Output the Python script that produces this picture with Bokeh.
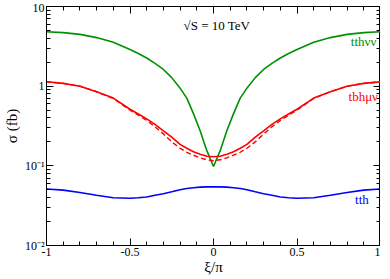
from bokeh.plotting import figure
from bokeh.models import LinearAxis, LogAxis, FixedTicker, LogTicker, Label, Range1d
from bokeh.embed import file_html
from bokeh.resources import INLINE

# xi/pi grid
xi = [-1.0, -0.9, -0.8, -0.7, -0.6, -0.5, -0.45, -0.4, -0.35, -0.3, -0.25, -0.2, -0.16, -0.12, -0.08, -0.04, 0.0,
      0.04, 0.08, 0.12, 0.16, 0.2, 0.25, 0.3, 0.35, 0.4, 0.45, 0.5, 0.6, 0.7, 0.8, 0.9, 1.0]

# cross sections in fb
sigma_tthvv = [4.82, 4.70, 4.47, 4.07, 3.55, 2.88, 2.57, 2.26, 1.93, 1.62, 1.28, 0.944, 0.708, 0.452, 0.275, 0.155, 0.098,
               0.155, 0.275, 0.452, 0.708, 0.944, 1.28, 1.62, 1.93, 2.26, 2.57, 2.88, 3.55, 4.07, 4.47, 4.70, 4.82]
sigma_tbhmv = [1.135, 1.084, 1.0, 0.851, 0.708, 0.513, 0.447, 0.389, 0.331, 0.275, 0.229, 0.186, 0.166, 0.150, 0.140, 0.132, 0.130,
               0.132, 0.140, 0.150, 0.166, 0.186, 0.229, 0.275, 0.331, 0.389, 0.447, 0.513, 0.708, 0.851, 1.0, 1.084, 1.135]
sigma_tbhmv_dash = [1.135, 1.084, 1.0, 0.851, 0.700, 0.501, 0.432, 0.372, 0.309, 0.251, 0.200, 0.166, 0.148, 0.136, 0.126, 0.119, 0.116,
                    0.119, 0.126, 0.136, 0.148, 0.166, 0.200, 0.251, 0.309, 0.372, 0.432, 0.501, 0.700, 0.851, 1.0, 1.084, 1.135]
sigma_tth = [0.0513, 0.0495, 0.0462, 0.0427, 0.0398, 0.0392, 0.0398, 0.0407, 0.0427, 0.0447, 0.0473, 0.0501, 0.0519, 0.0531, 0.0540, 0.0545, 0.0546,
             0.0545, 0.0540, 0.0531, 0.0519, 0.0501, 0.0473, 0.0447, 0.0427, 0.0407, 0.0398, 0.0392, 0.0398, 0.0427, 0.0462, 0.0495, 0.0513]

x_ticks = [-1, -0.5, 0, 0.5, 1]
x_minor = [-0.9, -0.8, -0.7, -0.6, -0.4, -0.3, -0.2, -0.1, 0.1, 0.2, 0.3, 0.4, 0.6, 0.7, 0.8, 0.9]
x_tick_labels = {-1: "-1", -0.5: "-0.5", 0: "0", 0.5: "0.5", 1: "1"}
y_tick_labels = {0.01: "10\u207b\u00b2", 0.1: "10\u207b\u00b9", 1: "1", 10: "10"}

FONT = "Liberation Serif"

p = figure(frame_width=334, frame_height=239, y_axis_type="log",
           x_range=Range1d(-1, 1), y_range=Range1d(0.01, 10),
           output_backend="svg", toolbar_location=None,
           min_border_left=0, min_border_right=0, min_border_top=6, min_border_bottom=0)
p.grid.visible = False
p.outline_line_color = "black"
p.outline_line_width = 1
p.background_fill_color = "white"
p.border_fill_color = "white"

p.line(xi, sigma_tthvv, line_color="#009000", line_width=1.6)
p.line(xi, sigma_tbhmv, line_color="#ff0000", line_width=1.6)
p.line(xi, sigma_tbhmv_dash, line_color="#ff0000", line_width=1.4, line_dash="5 3")
p.line(xi, sigma_tth, line_color="#0000ff", line_width=1.6)

def style(ax):
    ax.axis_line_color = "black"
    ax.major_tick_in = 7
    ax.major_tick_out = 0
    ax.minor_tick_in = 4
    ax.minor_tick_out = 0
    ax.major_tick_line_color = "black"
    ax.minor_tick_line_color = "black"
    ax.major_label_text_font = FONT
    ax.major_label_text_font_size = "12px"
    ax.major_label_text_color = "black"
    ax.axis_label_text_font = FONT
    ax.axis_label_text_font_size = "15px"
    ax.axis_label_text_font_style = "normal"
    ax.axis_label_text_color = "black"

xa = p.xaxis[0]
xa.ticker = FixedTicker(ticks=x_ticks, minor_ticks=x_minor)
xa.major_label_overrides = x_tick_labels
xa.axis_label = "\u03be/\u03c0"
xa.major_label_standoff = 2
xa.axis_label_standoff = 0
style(xa)

ya = p.yaxis[0]
ya.ticker = LogTicker(num_minor_ticks=10, desired_num_ticks=4)
ya.major_label_overrides = y_tick_labels
ya.axis_label = "\u03c3 (fb)"
ya.major_label_standoff = 2
ya.axis_label_standoff = 2
style(ya)

# mirrored tick marks (no labels) on top and right
top = LinearAxis(ticker=FixedTicker(ticks=x_ticks, minor_ticks=x_minor))
style(top)
top.major_label_overrides = {t: "" for t in x_ticks}
top.major_label_standoff = 0
top.axis_label_standoff = 0
p.add_layout(top, "above")

right = LogAxis(ticker=LogTicker(num_minor_ticks=10, desired_num_ticks=4))
style(right)
right.major_label_overrides = {0.01: "", 0.1: "", 1: "", 10: ""}
right.major_label_standoff = 0
right.axis_label_standoff = 0
p.add_layout(right, "right")

p.add_layout(Label(x=0.02, y=5.8, text="\u221aS = 10 TeV", text_font=FONT, text_font_size="13px",
                   text_color="black", text_align="center", text_baseline="middle"))
p.add_layout(Label(x=0.975, y=3.62, text="tth\u03bd\u03bd", text_font=FONT, text_font_size="13px",
                   text_color="#009000", text_align="right", text_baseline="middle"))
p.add_layout(Label(x=0.985, y=0.74, text="tbh\u03bc\u03bd", text_font=FONT, text_font_size="13px",
                   text_color="#ff0000", text_align="right", text_baseline="middle"))
p.add_layout(Label(x=0.93, y=0.038, text="tth", text_font=FONT, text_font_size="13px",
                   text_color="#0000ff", text_align="right", text_baseline="middle"))

open("out.html", "w").write(file_html(p, INLINE))
